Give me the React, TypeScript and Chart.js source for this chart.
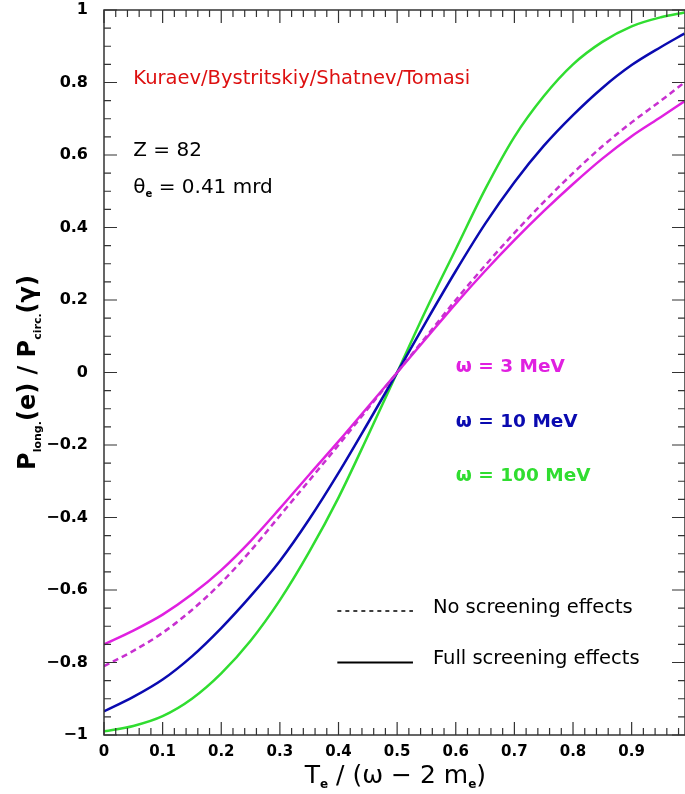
import React, { useEffect, useRef } from 'react';
import { Chart, registerables } from 'chart.js';

Chart.register(...registerables);

// x = T_e / (omega - 2 m_e)
const xValues = [0, 0.05, 0.1, 0.15, 0.2, 0.25, 0.3, 0.35, 0.4, 0.45, 0.5, 0.55, 0.6, 0.65, 0.7, 0.75, 0.8, 0.85, 0.9, 0.95, 0.99];

// omega = 3 MeV, no screening (dashed)
const magenta3NoScreen = [-0.81, -0.768, -0.718, -0.655, -0.58, -0.492, -0.395, -0.298, -0.2, -0.1, 0.0, 0.1, 0.2, 0.295, 0.385, 0.47, 0.55, 0.624, 0.69, 0.75, 0.8];
// omega = 3 MeV, full screening
const magenta3Full = [-0.75, -0.712, -0.668, -0.612, -0.545, -0.465, -0.375, -0.282, -0.19, -0.095, 0.0, 0.095, 0.19, 0.28, 0.365, 0.445, 0.52, 0.59, 0.652, 0.705, 0.748];
// omega = 10 MeV, full screening
const blue10Full = [-0.935, -0.895, -0.847, -0.783, -0.705, -0.617, -0.52, -0.405, -0.277, -0.14, 0.0, 0.142, 0.28, 0.41, 0.525, 0.625, 0.71, 0.785, 0.848, 0.898, 0.935];
// omega = 100 MeV, full screening
const green100Full = [-0.99, -0.975, -0.948, -0.9, -0.83, -0.74, -0.628, -0.495, -0.345, -0.175, 0.0, 0.175, 0.34, 0.505, 0.65, 0.762, 0.85, 0.912, 0.955, 0.98, 0.993];

const xTickValues = [0, 0.1, 0.2, 0.3, 0.4, 0.5, 0.6, 0.7, 0.8, 0.9];
const yTickValues = [-1, -0.8, -0.6, -0.4, -0.2, 0, 0.2, 0.4, 0.6, 0.8, 1];

const MAGENTA = '#e020e0';
const MAGENTA_DASH = '#c830d0';
const BLUE = '#0a0ab0';
const GREEN = '#30dd30';
const RED = '#dd1010';

const fmt = (v: number) => {
  const r = Math.round(v * 10) / 10;
  if (r === 0) return '0';
  const s = Number.isInteger(r) ? String(Math.abs(r)) : Math.abs(r).toFixed(1);
  return (r < 0 ? '\u2212' : '') + s;
};

type Part = { t: string; font: string; dy?: number };
function drawRich(ctx: CanvasRenderingContext2D, parts: Part[], x: number, y: number, align: 'left' | 'center') {
  let total = 0;
  for (const p of parts) {
    ctx.font = p.font;
    total += ctx.measureText(p.t).width;
  }
  let cx = align === 'center' ? x - total / 2 : x;
  ctx.textAlign = 'left';
  ctx.textBaseline = 'alphabetic';
  for (const p of parts) {
    ctx.font = p.font;
    ctx.fillText(p.t, cx, y + (p.dy || 0));
    cx += ctx.measureText(p.t).width;
  }
}

const framePlugin = {
  id: 'frame',
  afterDatasetsDraw(chart: any) {
    const { ctx, chartArea: a, scales } = chart;
    const xs = scales.x;
    const ys = scales.y;
    ctx.save();
    ctx.strokeStyle = '#333';
    ctx.lineWidth = 1.5;
    ctx.strokeRect(a.left, a.top, a.right - a.left, a.bottom - a.top);
    ctx.lineWidth = 1.2;
    ctx.beginPath();
    for (let i = 0; i <= 50; i++) {
      const v = i * 0.02;
      const px = xs.getPixelForValue(v);
      if (px > a.right - 1) continue;
      const len = i % 5 === 0 ? 13 : 7;
      ctx.moveTo(px, a.bottom);
      ctx.lineTo(px, a.bottom - len);
      ctx.moveTo(px, a.top);
      ctx.lineTo(px, a.top + len);
    }
    for (let i = 0; i <= 40; i++) {
      const v = -1 + i * 0.05;
      const py = ys.getPixelForValue(v);
      const len = i % 4 === 0 ? 13 : 7;
      ctx.moveTo(a.left, py);
      ctx.lineTo(a.left + len, py);
      ctx.moveTo(a.right, py);
      ctx.lineTo(a.right - len, py);
    }
    ctx.stroke();
    ctx.restore();
  },
};

const textPlugin = {
  id: 'texts',
  afterDraw(chart: any) {
    const { ctx, scales } = chart;
    const X = (v: number) => scales.x.getPixelForValue(v);
    const Y = (v: number) => scales.y.getPixelForValue(v);
    ctx.save();
    const F = '"DejaVu Sans", sans-serif';

    ctx.fillStyle = RED;
    drawRich(ctx, [{ t: 'Kuraev/Bystritskiy/Shatnev/Tomasi', font: `19.5px ${F}` }], X(0.05), Y(0.815) + 7, 'left');

    ctx.fillStyle = '#000';
    drawRich(ctx, [{ t: 'Z = 82', font: `20px ${F}` }], X(0.05), Y(0.62) + 8, 'left');
    drawRich(ctx, [
      { t: '\u03b8', font: `20px ${F}` },
      { t: 'e', font: `bold 10px ${F}`, dy: 4 },
      { t: ' = 0.41 mrd', font: `20px ${F}` },
    ], X(0.05), Y(0.517) + 8, 'left');

    ctx.fillStyle = MAGENTA;
    drawRich(ctx, [{ t: '\u03c9 = 3 MeV', font: `bold 18.5px ${F}` }], X(0.6), Y(0.02) + 7, 'left');
    ctx.fillStyle = BLUE;
    drawRich(ctx, [{ t: '\u03c9 = 10 MeV', font: `bold 18.5px ${F}` }], X(0.6), Y(-0.13) + 7, 'left');
    ctx.fillStyle = GREEN;
    drawRich(ctx, [{ t: '\u03c9 = 100 MeV', font: `bold 18.5px ${F}` }], X(0.6), Y(-0.28) + 7, 'left');

    // legend
    ctx.strokeStyle = '#000';
    ctx.lineWidth = 1.6;
    ctx.setLineDash([4, 4]);
    ctx.beginPath();
    ctx.moveTo(X(0.398), Y(-0.658));
    ctx.lineTo(X(0.527), Y(-0.658));
    ctx.stroke();
    ctx.setLineDash([]);
    ctx.lineWidth = 2;
    ctx.beginPath();
    ctx.moveTo(X(0.398), Y(-0.8));
    ctx.lineTo(X(0.527), Y(-0.8));
    ctx.stroke();
    ctx.fillStyle = '#000';
    drawRich(ctx, [{ t: 'No screening effects', font: `19.5px ${F}` }], X(0.561), Y(-0.645) + 7, 'left');
    drawRich(ctx, [{ t: 'Full screening effects', font: `19.5px ${F}` }], X(0.561), Y(-0.785) + 7, 'left');

    // x title
    drawRich(ctx, [
      { t: 'T', font: `25px ${F}` },
      { t: 'e', font: `bold 12px ${F}`, dy: 5 },
      { t: ' / (\u03c9 \u2212 2 m', font: `25px ${F}` },
      { t: 'e', font: `bold 12px ${F}`, dy: 5 },
      { t: ')', font: `25px ${F}` },
    ], X(0.497), 783, 'center');

    // y title
    ctx.translate(26, Y(0));
    ctx.rotate(-Math.PI / 2);
    drawRich(ctx, [
      { t: 'P', font: `bold 24px ${F}` },
      { t: 'long.', font: `bold 11px ${F}`, dy: 6 },
      { t: '(e) / P', font: `bold 24px ${F}` },
      { t: 'circ.', font: `bold 11px ${F}`, dy: 6 },
      { t: '(\u03b3)', font: `bold 24px ${F}` },
    ], 0, 9, 'center');
    ctx.restore();
  },
};

export default function App() {
  const ref = useRef<HTMLCanvasElement>(null);
  useEffect(() => {
    if (!ref.current) return;
    const pts = (ys: number[]) => xValues.map((x, i) => ({ x, y: ys[i] }));
    const common = { pointRadius: 0, borderWidth: 2.5, tension: 0.4, cubicInterpolationMode: 'monotone' as const, fill: false };
    const chart = new Chart(ref.current, {
      type: 'line',
      data: {
        datasets: [
          { label: '3 MeV no screening', data: pts(magenta3NoScreen), borderColor: MAGENTA_DASH, borderDash: [6, 4], ...common },
          { label: '3 MeV', data: pts(magenta3Full), borderColor: MAGENTA, ...common },
          { label: '10 MeV', data: pts(blue10Full), borderColor: BLUE, ...common },
          { label: '100 MeV', data: pts(green100Full), borderColor: GREEN, ...common },
        ],
      },
      options: {
        responsive: false,
        animation: false,
        layout: { padding: { top: 10, right: 0, left: 0, bottom: 0 } },
        plugins: { legend: { display: false }, tooltip: { enabled: false } },
        scales: {
          x: {
            type: 'linear',
            min: 0,
            max: 0.991,
            grid: { display: false, drawTicks: false },
            border: { display: false },
            afterBuildTicks: (s: any) => { s.ticks = xTickValues.map((v) => ({ value: v })); },
            ticks: {
              padding: 8,
              color: '#000',
              font: { family: '"DejaVu Sans", sans-serif', size: 15, weight: 'bold' },
              maxRotation: 0,
              autoSkip: false,
              callback: (v: any) => fmt(Number(v)),
            },
            afterFit: (s: any) => { s.height = 59; s.paddingLeft = 0; s.paddingRight = 0; },
          },
          y: {
            type: 'linear',
            min: -1,
            max: 1,
            grid: { display: false, drawTicks: false },
            border: { display: false },
            afterBuildTicks: (s: any) => { s.ticks = yTickValues.map((v) => ({ value: v })); },
            ticks: {
              padding: 16,
              color: '#000',
              font: { family: '"DejaVu Sans", sans-serif', size: 16, weight: 'bold' },
              autoSkip: false,
              callback: (v: any) => fmt(Number(v)),
            },
            afterFit: (s: any) => { s.width = 104; s.paddingTop = 0; s.paddingBottom = 0; },
          },
        },
      },
      plugins: [framePlugin, textPlugin],
    });
    return () => chart.destroy();
  }, []);
  return (
    <div style={{ position: 'absolute', left: 0, top: 0, width: 685, height: 794, background: '#fff' }}>
      <canvas ref={ref} width={685} height={794} style={{ display: 'block' }} />
    </div>
  );
}
